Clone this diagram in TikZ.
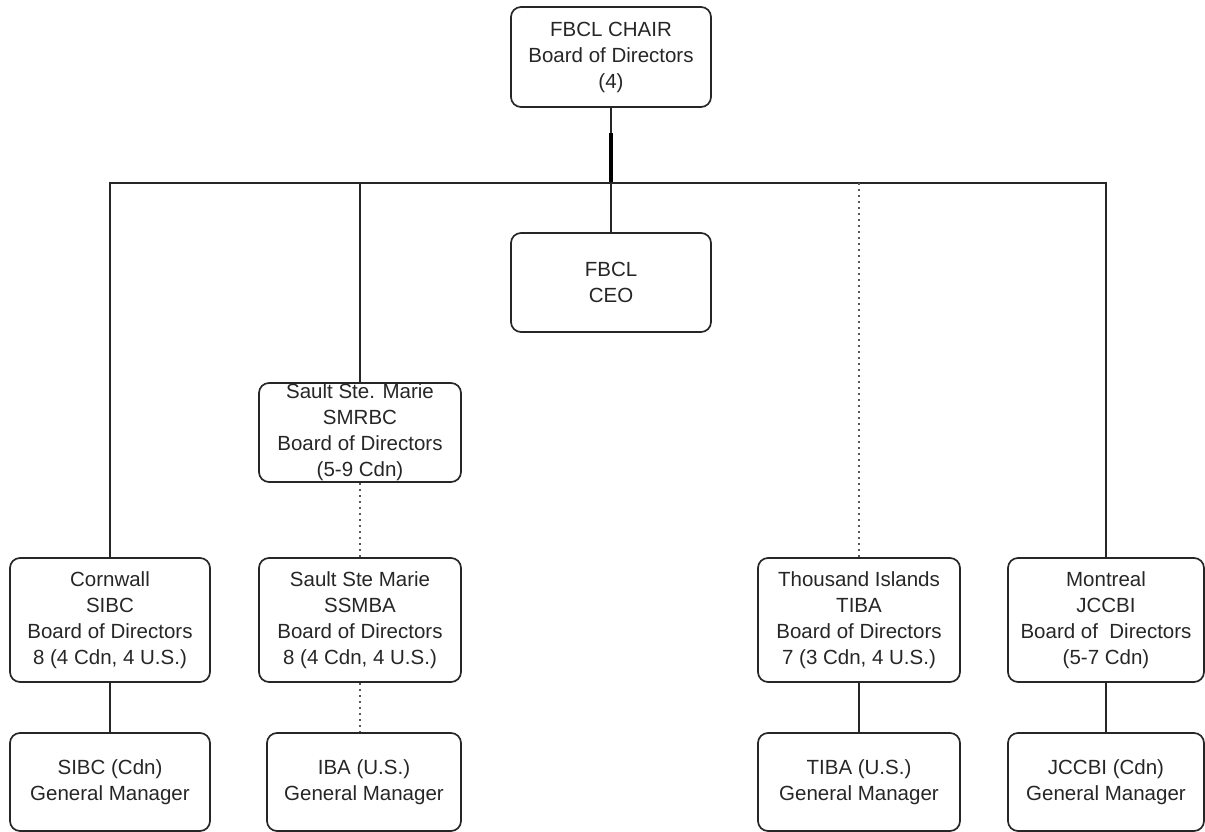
\documentclass[tikz,border=0pt]{standalone}
\usepackage{fontspec}
\setmainfont{Liberation Sans}
\usetikzlibrary{calc}
\begin{document}
\begin{tikzpicture}[x=1pt,y=-1pt,
  box/.style={draw=black!85, line width=1.7pt, rounded corners=10pt, align=center,
    inner sep=0pt, text=black!85, font=\fontsize{20.5}{26}\selectfont},
  conn/.style={draw=black!85, line width=1.7pt},
  dot/.style={draw=black!65, line width=2pt, dash pattern=on 2pt off 4pt}
]
\useasboundingbox (0,0) rectangle (1205,832);
% top
\node[box, minimum width=200, minimum height=100] (chair) at (611,57) {FBCL CHAIR\\Board of Directors\\(4)};
\node[box, minimum width=200, minimum height=99] (ceo) at (611,282.5) {FBCL\\CEO};
\node[box, minimum width=202, minimum height=99] (smrbc) at (360,432.5) {Sault Ste. Marie\\SMRBC\\Board of Directors\\(5-9 Cdn)};
% boards
\node[box, minimum width=200, minimum height=124] (cornwall) at (110,620) {Cornwall\\SIBC\\Board of Directors\\8 (4 Cdn, 4 U.S.)};
\node[box, minimum width=202, minimum height=124] (ssmba) at (360,620) {Sault Ste Marie\\SSMBA\\Board of Directors\\8 (4 Cdn, 4 U.S.)};
\node[box, minimum width=202, minimum height=124] (tiba) at (859,620) {Thousand Islands\\TIBA\\Board of Directors\\7 (3 Cdn, 4 U.S.)};
\node[box, minimum width=196, minimum height=124] (montreal) at (1106,620) {Montreal\\JCCBI\\Board of~ Directors\\(5-7 Cdn)};
% managers
\node[box, minimum width=200, minimum height=98] (sibcgm) at (110,782) {SIBC (Cdn)\\General Manager};
\node[box, minimum width=194, minimum height=98] (ibagm) at (364,782) {IBA (U.S.)\\General Manager};
\node[box, minimum width=202, minimum height=98] (tibagm) at (859,782) {TIBA (U.S.)\\General Manager};
\node[box, minimum width=196, minimum height=98] (jccbigm) at (1106,782) {JCCBI (Cdn)\\General Manager};
% connectors
\coordinate (bus) at (611,183);
\coordinate (thick) at (611,133);
\draw[conn] (chair.south) -- (ceo.north);
\draw[conn, line width=3.5pt, draw=black] (thick) -- (bus);
\draw[conn] (cornwall.north) -- (cornwall.north |- bus) -- (montreal.north |- bus) -- (montreal.north);
\draw[conn] (smrbc.north) -- (smrbc.north |- bus);
\draw[dot] (tiba.north) -- (tiba.north |- bus);
\draw[dot] (smrbc.south) -- (ssmba.north);
\draw[dot] (ssmba.south) -- (ssmba.south |- ibagm.north);
\draw[conn] (cornwall.south) -- (sibcgm.north);
\draw[conn] (tiba.south) -- (tibagm.north);
\draw[conn] (montreal.south) -- (jccbigm.north);
\end{tikzpicture}
\end{document}
